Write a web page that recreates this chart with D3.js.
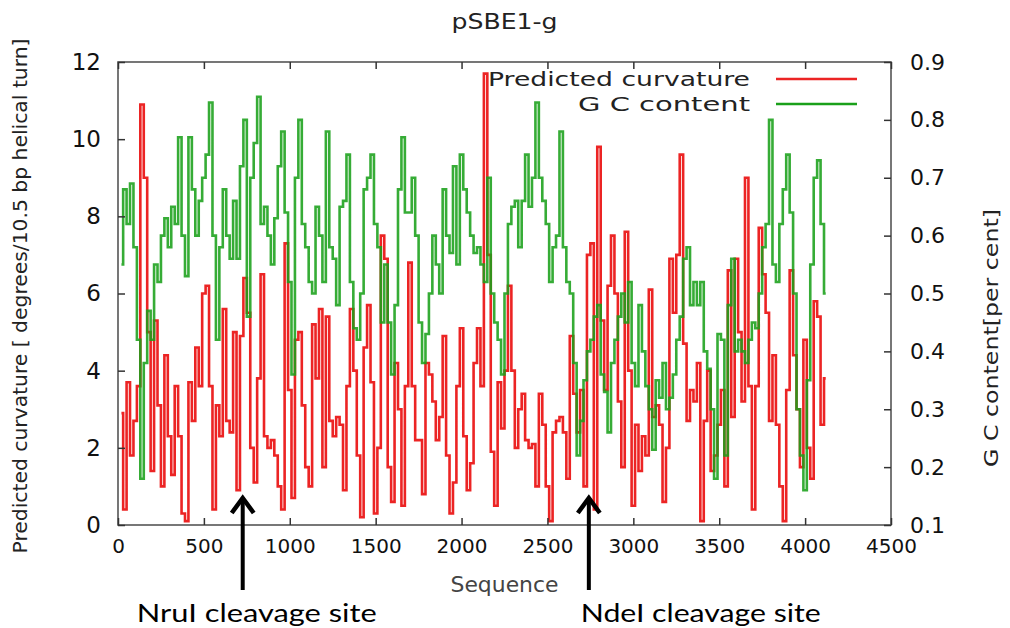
<!DOCTYPE html>
<html>
<head>
<meta charset="utf-8">
<script src="https://cdn.jsdelivr.net/npm/d3@7"></script>
<style>
  body { margin: 0; background: #fff; }
  text { font-family: "DejaVu Sans", sans-serif; }
</style>
</head>
<body>
<svg id="chart" width="1010" height="628"></svg>
<script>
// sequence sampling (bp)
const seqStart = 20, seqStep = 20;

// predicted curvature [degrees / 10.5 bp helical turn]
const curvature = [
  2.9, 0.4, 3.7, 1.8, 2.7, 3.6, 10.9, 9.0, 5.0, 1.4, 5.3, 3.1, 1.0, 4.4, 2.3, 1.3, 3.6, 2.3, 0.3, 0.1, 3.7, 2.7, 4.6, 3.6, 6.0, 6.2, 3.6, 0.4, 3.1,
  2.3, 5.6, 2.7, 2.4, 5.0, 0.9, 4.9, 6.4, 5.5, 2.0, 1.1, 3.8, 6.5, 2.3, 2.0, 2.2, 1.8, 1.0, 0.4, 7.3, 3.5, 0.7, 4.8, 5.0, 3.1, 1.5, 1.0, 5.2, 3.8,
  5.6, 1.5, 5.4, 2.7, 2.3, 2.8, 2.6, 0.9, 3.6, 5.6, 4.0, 1.8, 0.2, 4.6, 5.7, 3.7, 0.3, 2.0, 7.5, 6.9, 1.5, 0.6, 4.2, 3.0, 0.5, 3.6, 6.8, 3.6, 2.2,
  2.2, 0.8, 4.2, 3.9, 3.2, 2.2, 2.8, 4.9, 1.8, 0.3, 1.1, 3.6, 5.1, 2.3, 0.9, 1.6, 4.2, 5.1, 3.6, 11.7, 7.0, 1.9, 0.5, 3.7, 2.5, 4.0, 6.2, 4.0, 2.0,
  3.0, 3.4, 2.2, 2.0, 2.1, 1.0, 3.4, 2.6, 1.0, 0.1, 2.4, 2.7, 2.8, 2.4, 1.2, 4.9, 3.4, 2.4, 3.5, 1.0, 7.0, 7.3, 0.4, 9.8, 5.3, 3.5, 6.2, 7.5, 6.0,
  3.2, 1.5, 7.6, 4.0, 0.5, 2.6, 1.4, 2.3, 1.8, 6.1, 2.8, 3.1, 2.6, 0.6, 2.0, 6.9, 5.5, 7.0, 9.6, 4.7, 2.7, 3.5, 3.2, 4.2, 0.1, 2.7, 4.0, 1.4, 1.8,
  2.6, 3.5, 1.0, 6.6, 2.8, 6.9, 5.0, 3.2, 9.0, 3.6, 0.4, 3.6, 7.7, 6.5, 5.5, 2.7, 4.4, 2.6, 1.0, 0.1, 3.5, 6.6, 4.4, 3.0, 1.5, 4.8, 2.0, 1.2, 5.8, 5.4, 2.6, 3.8
];

// G C content (fraction)
const gcContent = [
  0.55, 0.68, 0.62, 0.69, 0.58, 0.42, 0.18, 0.38, 0.47, 0.42, 0.55, 0.52, 0.60, 0.63, 0.58, 0.65, 0.62, 0.77, 0.60, 0.53, 0.77, 0.68, 0.60, 0.66, 0.70, 0.74, 0.83, 0.60, 0.42,
  0.58, 0.68, 0.60, 0.56, 0.66, 0.56, 0.72, 0.80, 0.46, 0.70, 0.76, 0.84, 0.62, 0.65, 0.60, 0.55, 0.63, 0.72, 0.78, 0.64, 0.52, 0.36, 0.70, 0.80, 0.62, 0.58, 0.52, 0.50, 0.65,
  0.60, 0.52, 0.78, 0.58, 0.56, 0.48, 0.65, 0.66, 0.74, 0.52, 0.44, 0.42, 0.50, 0.68, 0.70, 0.74, 0.62, 0.58, 0.45, 0.55, 0.45, 0.36, 0.48, 0.68, 0.77, 0.64, 0.64, 0.70, 0.60,
  0.45, 0.38, 0.43, 0.50, 0.60, 0.55, 0.50, 0.68, 0.60, 0.57, 0.72, 0.55, 0.74, 0.68, 0.64, 0.60, 0.57, 0.58, 0.55, 0.52, 0.70, 0.50, 0.45, 0.42, 0.36, 0.50, 0.62, 0.65, 0.66,
  0.58, 0.66, 0.74, 0.65, 0.70, 0.83, 0.70, 0.66, 0.62, 0.52, 0.58, 0.60, 0.78, 0.58, 0.52, 0.50, 0.38, 0.22, 0.28, 0.35, 0.40, 0.42, 0.46, 0.48, 0.36, 0.33, 0.26, 0.38, 0.42,
  0.46, 0.50, 0.45, 0.52, 0.38, 0.34, 0.48, 0.40, 0.34, 0.30, 0.23, 0.35, 0.32, 0.38, 0.30, 0.32, 0.36, 0.42, 0.46, 0.56, 0.58, 0.48, 0.52, 0.48, 0.52, 0.40, 0.37, 0.30, 0.18,
  0.43, 0.42, 0.22, 0.48, 0.56, 0.40, 0.42, 0.40, 0.38, 0.42, 0.45, 0.44, 0.50, 0.58, 0.62, 0.80, 0.55, 0.52, 0.62, 0.68, 0.74, 0.64, 0.50, 0.30, 0.22, 0.16, 0.35, 0.55, 0.70, 0.73, 0.62, 0.50
];

const xTicks = [0, 500, 1000, 1500, 2000, 2500, 3000, 3500, 4000, 4500];
const yTicks = [0, 2, 4, 6, 8, 10, 12];
const y2Ticks = [0.1, 0.2, 0.3, 0.4, 0.5, 0.6, 0.7, 0.8, 0.9];

const siteNames = ['NruI cleavage site', 'NdeI cleavage site'];
const sitePositions = [726, 2741];

const seriesNames = ['Predicted curvature', 'G C content'];
const seriesColors = ['#ec2424', '#1aa01a'];

const svg = d3.select('#chart');
const plotLeft = 118, plotRight = 891, plotTop = 62, plotBottom = 525;

const x = d3.scaleLinear().domain([0, 4500]).range([plotLeft, plotRight]);
const y = d3.scaleLinear().domain([0, 12]).range([plotBottom, plotTop]);
const y2 = d3.scaleLinear().domain([0.1, 0.9]).range([plotBottom, plotTop]);

const pos = (i) => seqStart + i * seqStep;

// title
svg.append('text')
  .attr('x', (plotLeft + plotRight) / 2).attr('y', 29)
  .attr('text-anchor', 'middle')
  .attr('font-size', 21).attr('fill', '#222')
  .attr('textLength', 106).attr('lengthAdjust', 'spacingAndGlyphs')
  .text('pSBE1-g');

// series (red drawn first, green over it like gnuplot)
const redLine = d3.line()
  .x((d, i) => x(pos(i))).y((d) => y(d))
  .curve(d3.curveStep);
const greenLine = d3.line()
  .x((d, i) => x(pos(i))).y((d) => y2(d))
  .curve(d3.curveStep);

svg.append('path')
  .datum(curvature)
  .attr('d', redLine)
  .attr('fill', 'none')
  .attr('stroke', seriesColors[0])
  .attr('stroke-width', 2.6);

svg.append('path')
  .datum(gcContent)
  .attr('d', greenLine)
  .attr('fill', 'none')
  .attr('stroke', seriesColors[1])
  .attr('stroke-opacity', 0.88)
  .attr('stroke-width', 2.6);

// frame
svg.append('rect')
  .attr('x', plotLeft).attr('y', plotTop)
  .attr('width', plotRight - plotLeft).attr('height', plotBottom - plotTop)
  .attr('fill', 'none').attr('stroke', '#555').attr('stroke-width', 1.6);

// axes with inward ticks
const tickLen = 7;
const xAxis = d3.axisBottom(x).tickValues(xTicks).tickSize(-tickLen).tickPadding(14)
  .tickFormat(d3.format('d'));
const xTop = d3.axisTop(x).tickValues(xTicks).tickSize(-tickLen).tickFormat('');
const yAxis = d3.axisLeft(y).tickValues(yTicks).tickSize(-tickLen).tickPadding(17);
const y2Axis = d3.axisRight(y2).tickValues(y2Ticks).tickSize(-tickLen).tickPadding(19)
  .tickFormat(d3.format('.1f'));

function styleAxis(g, size) {
  g.select('.domain').remove();
  g.selectAll('.tick line').attr('stroke', '#333').attr('stroke-width', 1.5);
  g.selectAll('.tick text')
    .attr('font-family', '"DejaVu Sans", sans-serif')
    .attr('font-size', size).attr('fill', '#111');
}

svg.append('g').attr('transform', `translate(0,${plotBottom})`).call(xAxis).call(styleAxis, 20);
svg.append('g').attr('transform', `translate(0,${plotTop})`).call(xTop).call(styleAxis, 20);
svg.append('g').attr('transform', `translate(${plotLeft},0)`).call(yAxis).call(styleAxis, 23);
svg.append('g').attr('transform', `translate(${plotRight},0)`).call(y2Axis).call(styleAxis, 22);

// axis labels
svg.append('text')
  .attr('x', (plotLeft + plotRight) / 2).attr('y', 592)
  .attr('text-anchor', 'middle')
  .attr('font-size', 21).attr('fill', '#444')
  .attr('textLength', 108).attr('lengthAdjust', 'spacingAndGlyphs')
  .text('Sequence');

svg.append('text')
  .attr('transform', 'translate(27,296) rotate(-90)')
  .attr('text-anchor', 'middle')
  .attr('font-size', 20).attr('fill', '#222')
  .attr('textLength', 515).attr('lengthAdjust', 'spacingAndGlyphs')
  .text('Predicted curvature [ degrees/10.5 bp helical turn]');

svg.append('text')
  .attr('transform', 'translate(998,338) rotate(-90)')
  .attr('text-anchor', 'middle')
  .attr('font-size', 20).attr('fill', '#222')
  .attr('textLength', 258).attr('lengthAdjust', 'spacingAndGlyphs')
  .text('G C content[per cent]');

// legend
const legendLengths = [262, 172];
const legend = svg.append('g');
seriesNames.forEach((name, i) => {
  const ly = 79 + i * 25;
  legend.append('text')
    .attr('x', 750).attr('y', ly + 7)
    .attr('text-anchor', 'end')
    .attr('font-size', 20).attr('fill', '#222')
    .attr('textLength', legendLengths[i]).attr('lengthAdjust', 'spacingAndGlyphs')
    .text(name);
  legend.append('line')
    .attr('x1', 776).attr('x2', 857)
    .attr('y1', ly).attr('y2', ly)
    .attr('stroke', seriesColors[i]).attr('stroke-width', 2.6);
});

// cleavage site arrows
const labelShift = [14, 112];
sitePositions.forEach((p, i) => {
  const ax = x(p), tip = 496, tail = 590;
  svg.append('line')
    .attr('x1', ax).attr('x2', ax)
    .attr('y1', tail).attr('y2', tip + 3)
    .attr('stroke', '#000').attr('stroke-width', 4);
  svg.append('path')
    .attr('d', `M${ax - 11},${tip + 17} L${ax},${tip + 2} L${ax + 11},${tip + 17}`)
    .attr('fill', 'none').attr('stroke', '#000')
    .attr('stroke-width', 4.5).attr('stroke-linejoin', 'miter');
  svg.append('text')
    .attr('x', ax + labelShift[i]).attr('y', 622)
    .attr('text-anchor', 'middle')
    .style('font-family', 'Lato, "Open Sans", sans-serif')
    .attr('font-size', 25).attr('fill', '#000')
    .attr('textLength', 240).attr('lengthAdjust', 'spacingAndGlyphs')
    .text(siteNames[i]);
});
</script>
</body>
</html>
